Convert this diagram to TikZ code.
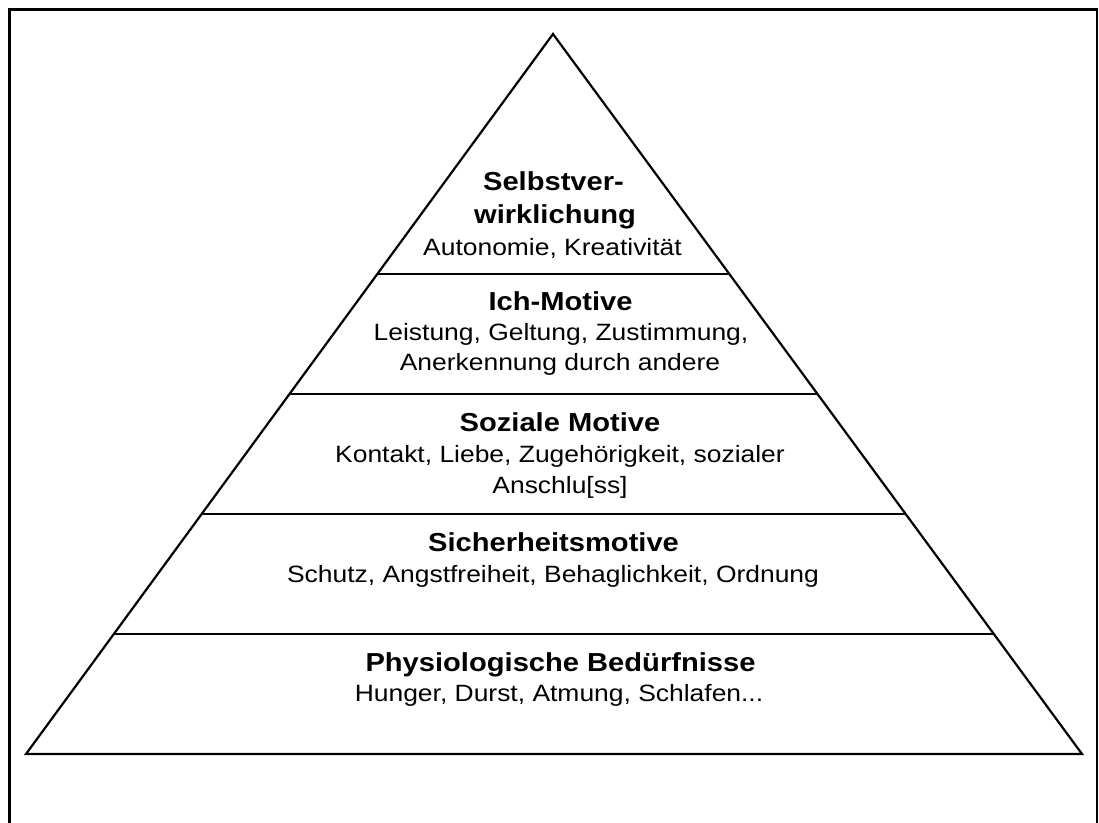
\documentclass[tikz,border=0pt]{standalone}
\usepackage{fontspec}
\setmainfont[FakeStretch=1.12]{Liberation Sans}
\usetikzlibrary{calc}
\begin{document}
\begin{tikzpicture}[x=1pt,y=-1pt,
  frameline/.style={line width=2.5pt,black},
  pyrline/.style={line width=2.2pt,black,line join=miter},
  titletext/.style={anchor=base,inner sep=0pt,font=\fontsize{26}{31}\selectfont\bfseries},
  bodytext/.style={anchor=base,inner sep=0pt,font=\fontsize{23.6}{30}\selectfont}]
\useasboundingbox (0,0) rectangle (1099,822);
% outer frame (bottom edge lies outside the picture)
\coordinate (fbl) at (9.5,823);
\coordinate (ftl) at (9.5,9.5);
\coordinate (ftr) at (1097,9.5);
\coordinate (fbr) at (1097,823);
\draw[frameline] (fbl) -- (ftl) -- (ftr) -- (fbr);
% pyramid
\coordinate (apex) at (553,34);
\coordinate (bl) at (26,754);
\coordinate (br) at (1082,754);
\draw[pyrline] (apex) -- (bl) -- (br) -- cycle;
\foreach \t/\n in {0.33333/a,0.5/b,0.66667/c,0.83333/d}{
  \coordinate (l\n) at ($(apex)!\t!(bl)$);
  \coordinate (r\n) at ($(apex)!\t!(br)$);
  \draw[pyrline] (l\n) -- (r\n);
}
% level 5
\node[titletext] (s1) at (553.5,190.7) {Selbstver-};
\node[titletext] (s2) at (555,223.3) {wirklichung};
\node[bodytext]  (s3) at (552.5,255) {Autonomie, Kreativität};
% level 4
\node[titletext] (i1) at (560.5,310) {Ich-Motive};
\node[bodytext]  (i2) at (561,340) {Leistung, Geltung, Zustimmung,};
\node[bodytext]  (i3) at (560,370) {Anerkennung durch andere};
% level 3
\node[titletext] (z1) at (560,431.7) {Soziale Motive};
\node[bodytext]  (z2) at (560,462.7) {Kontakt, Liebe, Zugehörigkeit, sozialer};
\node[bodytext]  (z3) at (560,493) {Anschlu[ss]};
% level 2
\node[titletext] (h1) at (553.5,551.7) {Sicherheitsmotive};
\node[bodytext]  (h2) at (553,582.7) {Schutz, Angstfreiheit, Behaglichkeit, Ordnung};
% level 1
\node[titletext] (p1) at (560.5,671.7) {Physiologische Bedürfnisse};
\node[bodytext]  (p2) at (559,701.7) {Hunger, Durst, Atmung, Schlafen...};
\end{tikzpicture}
\end{document}
